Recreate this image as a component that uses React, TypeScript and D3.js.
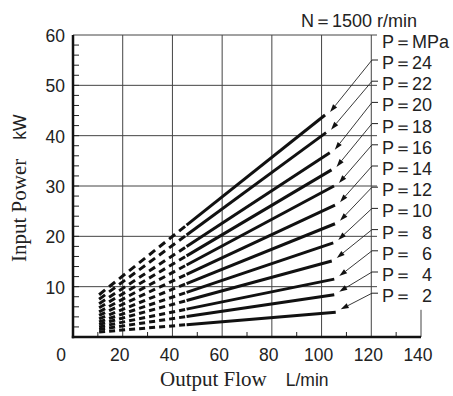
import React from "react";
import * as d3 from "d3";

const pressures = [24, 22, 20, 18, 16, 14, 12, 10, 8, 6, 4, 2];
const flowStart = 10.5;
const flowDashEnd = 45.7;
const flowEnd = [101.4, 101.8, 103.3, 104.0, 105.0, 105.4, 105.4, 104.7, 104.1, 105.1, 105.1, 105.7];
const powerStart = [8.4, 7.5, 6.6, 5.8, 5.0, 4.3, 3.6, 3.0, 2.5, 2.0, 1.5, 1.0];
const powerEnd = [44.1, 40.6, 36.6, 33.2, 30.0, 26.2, 22.5, 18.7, 15.1, 11.5, 8.4, 4.9];

const xTicks = [0, 20, 40, 60, 80, 100, 120, 140];
const xMinor = [10, 30, 50, 70, 90, 110, 130];
const yTicks = [10, 20, 30, 40, 50, 60];
const xGrid = [20, 40, 60, 80, 100, 120];
const yGrid = [10, 20, 30, 40, 50, 60];

const SANS = "'Liberation Sans', Arial, Helvetica, sans-serif";
const SERIF = "'Liberation Serif', 'Times New Roman', serif";

export default function App() {
  const W = 453, H = 396;
  const x = d3.scaleLinear().domain([0, 140]).range([73, 421]);
  const y = d3.scaleLinear().domain([0, 60]).range([337, 35]);
  const line = d3.line<[number, number]>().x((d) => x(d[0])).y((d) => y(d[1]));
  const gridRight = 377;
  const yMinor = d3.range(2, 60, 2);

  const labelX = 382;
  const labelBase0 = 69;
  const labelStep = 21.2;
  const leaderX = 372;

  return (
    <svg width={W} height={H} style={{ position: "absolute", left: 0, top: 0, display: "block", background: "#fff" }}>
      {/* grid */}
      {xGrid.map((v) => (
        <line key={"gx" + v} x1={x(v)} x2={x(v)} y1={y(60)} y2={y(0)} stroke="#444" strokeWidth={1} />
      ))}
      {yGrid.map((v) => (
        <line key={"gy" + v} x1={x(0)} x2={gridRight} y1={y(v)} y2={y(v)} stroke="#444" strokeWidth={1} />
      ))}
      {/* right short line */}
      <line x1={x(140)} x2={x(140)} y1={y(0)} y2={y(5.4)} stroke="#444" strokeWidth={1} />
      {/* minor ticks */}
      {yMinor.map((v) => (
        <line key={"ym" + v} x1={x(0)} x2={x(0) + 6} y1={y(v)} y2={y(v)} stroke="#222" strokeWidth={1} />
      ))}
      {xMinor.map((v) => (
        <line key={"xm" + v} x1={x(v)} x2={x(v)} y1={y(0)} y2={y(0) - 5} stroke="#222" strokeWidth={1} />
      ))}
      {/* axes */}
      <line x1={x(0)} x2={x(0)} y1={y(60)} y2={y(0) + 1.2} stroke="#111" strokeWidth={2.5} />
      <line x1={x(0) - 1.2} x2={x(140)} y1={y(0)} y2={y(0)} stroke="#111" strokeWidth={2.5} />

      {/* tick labels */}
      {yTicks.map((v) => (
        <text key={"yl" + v} x={65} y={y(v) + 1} textAnchor="end" dominantBaseline="central" fontFamily={SANS} fontSize={17.5} fill="#222">
          {v}
        </text>
      ))}
      {xTicks.map((v) => (
        <text key={"xl" + v} x={v === 0 ? x(v) - 12 : x(v) - 3} y={360.5} textAnchor="middle" fontFamily={SANS} fontSize={17.5} fill="#222">
          {v}
        </text>
      ))}

      {/* data lines */}
      {pressures.map((p, i) => {
        const x0 = flowStart, x1 = flowEnd[i];
        const y0 = powerStart[i], y1 = powerEnd[i];
        const slope = (y1 - y0) / (x1 - x0);
        const yb = y0 + slope * (flowDashEnd - x0);
        const pxSlope = (y(y0) - y(y1)) / (x(x1) - x(x0));
        const f = Math.sqrt(1 + pxSlope * pxSlope);
        return (
          <g key={"ln" + p}>
            <path d={line([[x0, y0], [flowDashEnd, yb]]) || ""} stroke="#111" strokeWidth={3} fill="none" strokeDasharray={`${6 * f} ${4 * f}`} />
            <path d={line([[flowDashEnd, yb], [x1, y1]]) || ""} stroke="#111" strokeWidth={3} fill="none" />
          </g>
        );
      })}

      {/* labels & leaders */}
      <text x={labelX} y={48.3} fontFamily={SANS} fontSize={18} fill="#222">P＝MPa</text>
      {pressures.map((p, i) => {
        const base = labelBase0 + labelStep * i;
        const ly = base - 9;
        const tx = x(flowEnd[i]) + 5;
        const ty = y(powerEnd[i]) - 3;
        const dx = tx - leaderX, dy = ty - ly;
        const len = Math.sqrt(dx * dx + dy * dy);
        const ux = dx / len, uy = dy / len;
        const ah = 8, aw = 2.6;
        const bx = tx - ux * ah, by = ty - uy * ah;
        const pts = `${tx},${ty} ${bx - uy * aw},${by + ux * aw} ${bx + uy * aw},${by - ux * aw}`;
        return (
          <g key={"lab" + p}>
            <line x1={leaderX} x2={leaderX + 6} y1={ly} y2={ly} stroke="#222" strokeWidth={1} />
            <line x1={leaderX} y1={ly} x2={bx} y2={by} stroke="#222" strokeWidth={0.9} />
            <polygon points={pts} fill="#111" />
            <text x={labelX} y={base} fontFamily={SANS} fontSize={18} fill="#222">P＝</text>
            <text x={432} y={base} textAnchor="end" fontFamily={SANS} fontSize={18} fill="#222">{p}</text>
          </g>
        );
      })}

      {/* header */}
      <text x={301} y={26.5} fontFamily={SANS} fontSize={18} fill="#222">N＝1500 r/min</text>

      {/* axis titles */}
      <text x={160} y={386} fontSize={21} fill="#222">
        <tspan fontFamily={SERIF}>Output Flow</tspan>
        <tspan fontFamily={SANS} fontSize={17.5} dx={19}>L/min</tspan>
      </text>
      <text transform="translate(25.5,262) rotate(-90)" fontSize={21} fill="#222">
        <tspan fontFamily={SERIF}>Input Power</tspan>
        <tspan fontFamily={SANS} fontSize={17.5} dx={19}>kW</tspan>
      </text>
    </svg>
  );
}
